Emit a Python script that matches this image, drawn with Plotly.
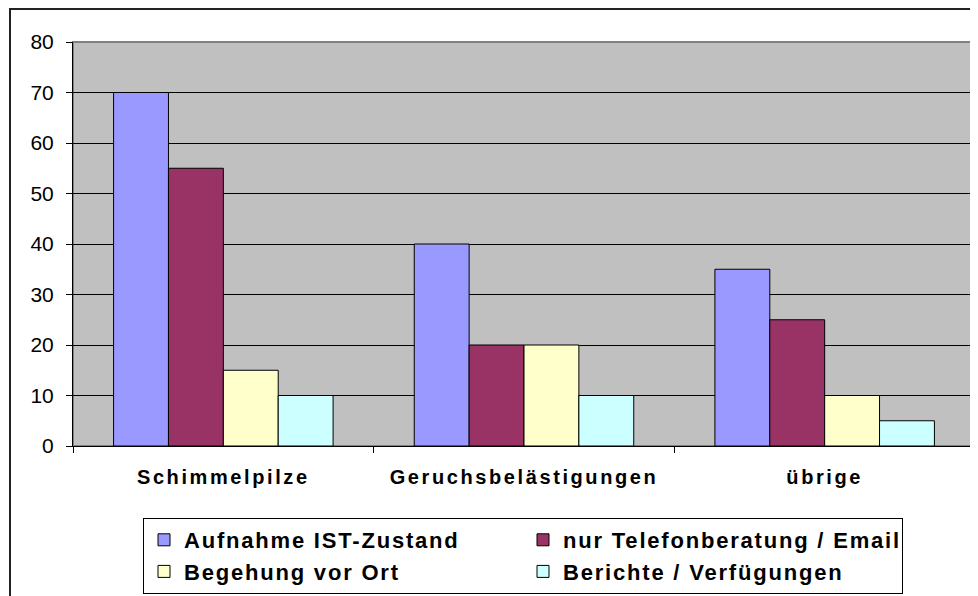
import plotly.graph_objects as go

categories = ["Schimmelpilze", "Geruchsbelästigungen", "übrige"]
series_names = ["Aufnahme IST-Zustand", "nur Telefonberatung / Email",
                "Begehung vor Ort", "Berichte / Verfügungen"]
aufnahme = [70, 40, 35]
telefon = [55, 20, 25]
begehung = [15, 20, 10]
berichte = [10, 10, 5]
y_ticks = [0, 10, 20, 30, 40, 50, 60, 70, 80]

colors = ["#9999FF", "#993366", "#FFFFCC", "#CCFFFF"]
values = [aufnahme, telefon, begehung, berichte]

FONT = "Liberation Sans, Arial, sans-serif"

def spaced(t, sp):
    return f"<span style='letter-spacing:{sp}px'>{t}</span>"

fig = go.Figure()
for name, vals, col in zip(series_names, values, colors):
    fig.add_trace(go.Bar(
        x=categories, y=vals, name=spaced(name, 1.8),
        marker=dict(color=col, line=dict(color="black", width=1)),
    ))

# page body has an 8px margin; figure is shifted accordingly
OFF = 8
W, H = 978 - OFF, 596 - OFF
ml, mr, mt, mb = 73 - OFF, 3, 42 - OFF, 149
pw, ph = W - ml - mr, H - mt - mb

def px_x(px):
    return (px - OFF - ml) / pw

def px_y(py):
    return (H - mb - (py - OFF)) / ph

fig.update_layout(
    width=W, height=H,
    margin=dict(l=ml, r=mr, t=mt, b=mb),
    paper_bgcolor="white",
    plot_bgcolor="#C0C0C0",
    barmode="group",
    bargap=0.27,
    bargroupgap=0,
    font=dict(family=FONT, color="black"),
    showlegend=True,
    legend=dict(
        orientation="h",
        x=px_x(143), y=px_y(518),
        xanchor="left", yanchor="top",
        bordercolor="black", borderwidth=1,
        bgcolor="white",
        font=dict(size=22, family=FONT, weight="bold"),
        entrywidth=334,
        traceorder="normal",
    ),
    xaxis=dict(
        tickmode="array",
        tickvals=categories,
        ticktext=[spaced(c, 2.6) for c in categories],
        tickfont=dict(size=20, family=FONT, weight="bold"),
        ticks="outside", tickson="boundaries", ticklen=6, tickcolor="black",
        showline=True, linecolor="black", linewidth=1,
        showgrid=False,
        ticklabelstandoff=13,
    ),
    yaxis=dict(
        range=[0, 80],
        tickmode="array", tickvals=y_ticks,
        tickfont=dict(size=21, family=FONT),
        ticks="outside", ticklen=6, tickcolor="black",
        showline=True, linecolor="black", linewidth=1,
        showgrid=True, gridcolor="black", gridwidth=1,
        zeroline=False,
        ticklabelstandoff=8,
    ),
    shapes=[
        dict(type="rect", xref="paper", yref="paper", x0=0, x1=1, y0=0, y1=1,
             line=dict(color="#808080", width=2), layer="below"),
        dict(type="rect", xref="paper", yref="paper",
             x0=px_x(10), x1=px_x(1000), y0=px_y(620), y1=px_y(9),
             line=dict(color="#222222", width=2), fillcolor="rgba(0,0,0,0)",
             layer="above"),
    ],
)

fig.write_html("out.html")
